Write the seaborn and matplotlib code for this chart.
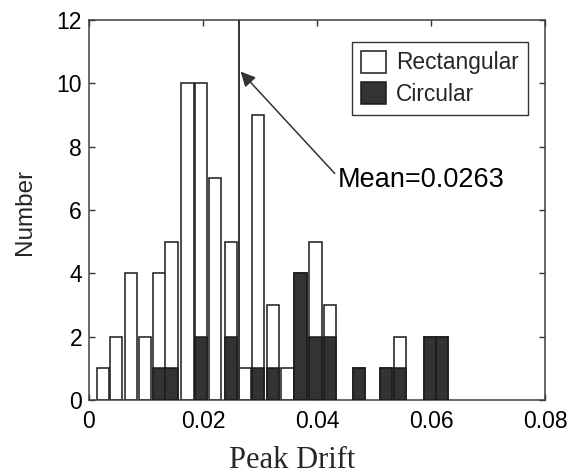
import numpy as np
import pandas as pd
import matplotlib
matplotlib.use("Agg")
import matplotlib.pyplot as plt
from matplotlib.patches import Patch
import seaborn as sns

# Histogram data: bin centres (peak drift) and counts per column type
drift_bins = [0.00243, 0.00475, 0.00737, 0.00982, 0.01237, 0.01449, 0.01728, 0.01965,
              0.02216, 0.02495, 0.02732, 0.02961, 0.03225, 0.03482, 0.03711, 0.03974,
              0.04228, 0.04732, 0.05216, 0.05456, 0.05979, 0.06193]
rectangular_counts = [1, 2, 4, 2, 3, 4, 10, 8, 7, 3, 1, 8, 2, 1, 0, 3, 1, 0, 0, 1, 0, 0]
circular_counts = [0, 0, 0, 0, 1, 1, 0, 2, 0, 2, 0, 1, 1, 0, 4, 2, 2, 1, 1, 1, 2, 2]
mean_drift = 0.0263

x_ticks = [0, 0.02, 0.04, 0.06, 0.08]
x_tick_labels = ["0", "0.02", "0.04", "0.06", "0.08"]
y_ticks = [0, 2, 4, 6, 8, 10, 12]

sns.set_theme(style="ticks")
plt.rcParams["font.family"] = ["Liberation Sans", "DejaVu Sans"]

df = pd.DataFrame({
    "drift": drift_bins,
    "rect": rectangular_counts,
    "circ": circular_counts,
})
df["total"] = df["rect"] + df["circ"]
circ_df = df[df["circ"] > 0]

bar_width = 0.00215
min_step = np.diff(np.sort(df["drift"].values)).min()
width_frac = bar_width / min_step

fig = plt.figure(figsize=(5.76, 4.76), dpi=100)
ax = fig.add_axes([0.1545, 0.1597, 0.7917, 0.7983])

edge = "#1a1a1a"
dark = "#333333"

sns.barplot(data=df, x="drift", y="total", native_scale=True, orient="x",
            width=width_frac, color="white", saturation=1, edgecolor=edge,
            linewidth=1.1, errorbar=None, ax=ax, zorder=2)
sns.barplot(data=circ_df, x="drift", y="circ", native_scale=True, orient="x",
            width=width_frac, color=dark, saturation=1, edgecolor=edge,
            linewidth=1.1, errorbar=None, ax=ax, zorder=3)

# Mean drift marker
ax.axvline(mean_drift, color="#333333", lw=1.4, zorder=4)
ax.annotate(f"Mean={mean_drift}", xy=(0.02661, 10.37), xytext=(0.04368, 6.74),
            fontsize=19.5, ha="left", va="baseline", color="black",
            arrowprops=dict(arrowstyle="-|>", color="#333333", lw=1.1,
                            mutation_scale=22, shrinkA=0, shrinkB=0,
                            relpos=(0, 0.6)))

ax.set_xlim(0, 0.08)
ax.set_ylim(0, 12)
ax.set_xticks(x_ticks)
ax.set_xticklabels(x_tick_labels)
ax.set_yticks(y_ticks)

ax.tick_params(direction="in", length=4, width=1, color="#333333",
               top=True, right=True, labelsize=16.5, pad=5, labelcolor="black")
ax.tick_params(axis="x", pad=7)
for sp in ax.spines.values():
    sp.set_visible(True)
    sp.set_color("#404040")
    sp.set_linewidth(1.1)

ax.set_xlabel("Peak Drift", fontsize=22, family=["Liberation Serif", "DejaVu Serif"])
ax.xaxis.label.set_verticalalignment("baseline")
ax.xaxis.set_label_coords(0.445, -0.178)
ax.set_ylabel("Number", fontsize=17.5)
ax.yaxis.label.set_verticalalignment("center")
ax.yaxis.set_label_coords(-0.141, 0.495)

handles = [Patch(facecolor="white", edgecolor=edge, linewidth=1.1, label="Rectangular"),
           Patch(facecolor=dark, edgecolor=edge, linewidth=1.1, label="Circular")]
leg = ax.legend(handles=handles, loc="upper right", bbox_to_anchor=(0.963, 0.943),
                borderaxespad=0, fontsize=16.4, handlelength=1.1, handleheight=1.1,
                handletextpad=0.45, labelspacing=0.35, borderpad=0.4,
                fancybox=False, framealpha=1, edgecolor="#333333")
leg.get_frame().set_linewidth(1.0)

fig.savefig("out.png", dpi=100)
